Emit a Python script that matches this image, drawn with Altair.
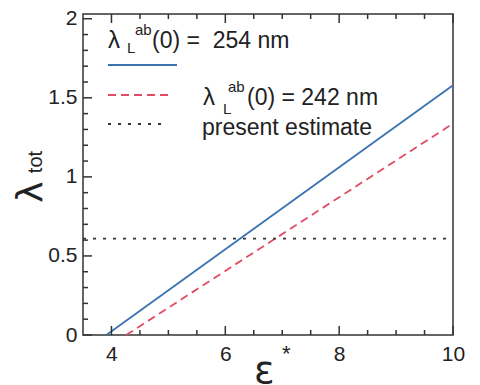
import altair as alt
import pandas as pd

# ---- data ----
blue_eps = [3.91, 10.0]
blue_lam = [0.0, 1.58]
red_eps = [4.26, 10.0]
red_lam = [0.0, 1.337]
est_eps = [3.5, 10.0]
est_lam = [0.61, 0.61]

x_major = [4.0, 6.0, 8.0, 10.0]
x_minor = [4.5, 5, 5.5, 6.5, 7, 7.5, 8.5, 9, 9.5]
y_major = [0.0, 0.5, 1.0, 1.5, 2.0]
y_minor = [0.1, 0.2, 0.3, 0.4, 0.6, 0.7, 0.8, 0.9,
           1.1, 1.2, 1.3, 1.4, 1.6, 1.7, 1.8, 1.9]

legend_values = ["(0) =\u00a0 254 nm", "(0) = 242 nm", "present estimate"]

W, H = 370, 321
XMIN, XMAX = 3.5, 10.0
YMIN, YMAX = 0.0, 2.03
FONT = "Liberation Sans"
INK = "#333333"
BLUE = "#3a73b0"
RED = "#e04c66"

xs = alt.Scale(domain=[XMIN, XMAX], nice=False, zero=False)
ys = alt.Scale(domain=[YMIN, YMAX], nice=False, zero=False)

xaxis = alt.Axis(values=x_major, ticks=False, domain=False, grid=False,
                 labelFontSize=21, labelFont=FONT, labelColor="#222",
                 labelPadding=8, title=None, labelFlush=False, labelOverlap=False)
yaxis = alt.Axis(values=y_major, ticks=False, domain=False, grid=False,
                 labelFontSize=21, labelFont=FONT, labelColor="#222", format="~g",
                 labelPadding=6, title=None, labelFlush=False, labelOverlap=False)


def line(xv, yv, color, dash, width):
    df = pd.DataFrame({"x": xv, "y": yv})
    kw = dict(color=color, strokeWidth=width)
    if dash:
        kw["strokeDash"] = dash
    return alt.Chart(df).mark_line(**kw).encode(
        x=alt.X("x:Q", scale=xs, axis=xaxis),
        y=alt.Y("y:Q", scale=ys, axis=yaxis),
    )


blue = line(blue_eps, blue_lam, BLUE, None, 1.8)
red = line(red_eps, red_lam, RED, [8, 5], 1.8)
est = line(est_eps, est_lam, INK, [3, 7], 1.8)

# inward tick marks: lengths in pixels converted to data units
PX_X = (XMAX - XMIN) / W
PX_Y = (YMAX - YMIN) / H


def xticks(vals, length, top):
    rows = []
    for v in vals:
        y0, y1 = (YMAX, YMAX - length * PX_Y) if top else (YMIN, YMIN + length * PX_Y)
        rows.append({"x": v, "y": y0, "k": str(v)})
        rows.append({"x": v, "y": y1, "k": str(v)})
    return alt.Chart(pd.DataFrame(rows)).mark_line(color=INK, strokeWidth=1.5).encode(
        x=alt.X("x:Q", scale=xs, axis=xaxis),
        y=alt.Y("y:Q", scale=ys, axis=yaxis),
        detail="k:N")


def yticks(vals, length):
    rows = []
    for v in vals:
        rows.append({"y": v, "x": XMIN, "k": str(v)})
        rows.append({"y": v, "x": XMIN + length * PX_X, "k": str(v)})
    return alt.Chart(pd.DataFrame(rows)).mark_line(color=INK, strokeWidth=1.5).encode(
        y=alt.Y("y:Q", scale=ys, axis=yaxis),
        x=alt.X("x:Q", scale=xs, axis=xaxis),
        detail="k:N")


ticks = [xticks(x_major, 9, False), xticks(x_minor, 5, False),
         xticks(x_major, 9, True), xticks(x_minor, 5, True),
         yticks(y_major, 9), yticks(y_minor, 5)]

one = pd.DataFrame({"a": [0]})


def txt(s, x, y, size, angle=None, font=FONT, color="#222", align="left",
        baseline="alphabetic"):
    kw = dict(text=s, fontSize=size, font=font, color=color, align=align,
              baseline=baseline)
    enc = dict(x=alt.value(x), y=alt.value(y))
    if angle is not None:
        enc["angle"] = alt.value(angle)
    return alt.Chart(one).mark_text(**kw).encode(**enc)


def seg(x1, x2, y, color, dash, w=1.8):
    kw = dict(color=color, strokeWidth=w)
    if dash:
        kw["strokeDash"] = dash
    return alt.Chart(one).mark_rule(**kw).encode(
        x=alt.value(x1), x2=alt.value(x2), y=alt.value(y))


legend = [
    seg(25, 94, 51, BLUE, None),
    seg(25, 87, 81, RED, [8, 5]),
    seg(25, 84, 110, INK, [3, 7]),
    txt("λ", 25, 34, 24),
    txt("L", 44, 39, 15),
    txt("ab", 52, 21, 15),
    txt(legend_values[0], 69, 34, 23),
    txt("λ", 120, 91, 24),
    txt("L", 140, 100, 15),
    txt("ab", 145, 78, 15),
    txt(legend_values[1], 164, 91, 23),
    txt(legend_values[2], 119, 121, 23),
]

titles = [
    txt("ε", 171, 369, 38, font="DejaVu Sans"),
    txt("*", 199, 347, 22),
    txt("λ", -52, 178, 36, angle=270, font="DejaVu Sans", align="center",
        baseline="middle"),
    txt("tot", -47, 148, 20, angle=270, align="center", baseline="middle"),
]

chart = alt.layer(blue, red, est, *ticks, *legend, *titles).properties(
    width=W, height=H,
    padding={"left": 75, "top": 6, "right": 15, "bottom": 52},
    autosize=alt.AutoSizeParams(type="none"),
    background="white",
).configure_view(stroke=INK, strokeWidth=1.5)

chart.save("out.html", embed_options={"renderer": "svg", "actions": False})
